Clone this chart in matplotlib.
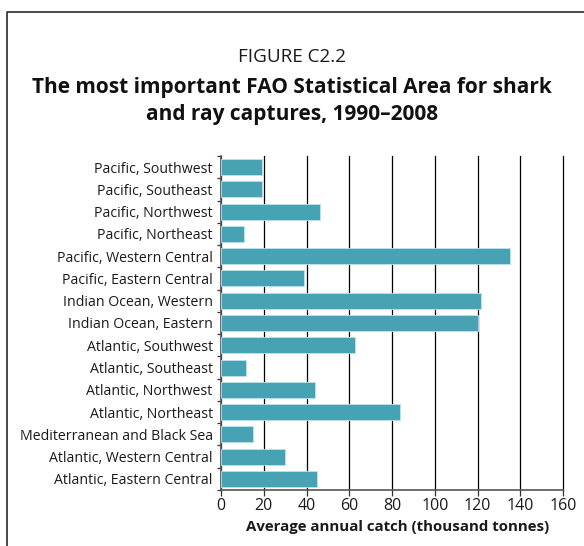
import matplotlib
matplotlib.use("Agg")
import matplotlib.pyplot as plt
from matplotlib.lines import Line2D

plt.rcParams["font.family"] = ["Open Sans", "DejaVu Sans"]

areas = [
    "Pacific, Southwest",
    "Pacific, Southeast",
    "Pacific, Northwest",
    "Pacific, Northeast",
    "Pacific, Western Central",
    "Pacific, Eastern Central",
    "Indian Ocean, Western",
    "Indian Ocean, Eastern",
    "Atlantic, Southwest",
    "Atlantic, Southeast",
    "Atlantic, Northwest",
    "Atlantic, Northeast",
    "Mediterranean and Black Sea",
    "Atlantic, Western Central",
    "Atlantic, Eastern Central",
]
catch = [19.4, 19.4, 46.2, 10.9, 135.2, 38.7, 121.8, 120.2,
         62.8, 11.9, 44.0, 83.7, 14.8, 29.8, 44.8]
x_ticks = [0, 20, 40, 60, 80, 100, 120, 140, 160]

W, H = 584, 546
fig = plt.figure(figsize=(W / 100, H / 100), dpi=100)
ax = fig.add_axes([221 / W, 1 - 490 / H, (563 - 221) / W, (490 - 156) / H])

# frame around the figure (only left and top visible in the crop)
fig.add_artist(Line2D([7 / W, 7 / W, 1.0], [0.0, 1 - 12 / H, 1 - 12 / H],
                      transform=fig.transFigure, color="#3a3a3a", lw=1.3))

ypos = list(range(len(areas)))
ax.set_axisbelow(True)
ax.xaxis.grid(True, color="black", lw=0.9)
ax.barh(ypos, catch, height=0.72, color="#47A3B3", edgecolor="#BFE3E9", lw=0.6, zorder=3)

ax.set_xlim(0, 160)
ax.set_ylim(len(areas) - 0.5, -0.5)
ax.set_xticks(x_ticks)
ax.set_yticks(ypos)
ax.set_yticklabels(areas)
ax.set_yticks([y - 0.5 for y in ypos] + [len(areas) - 0.5], minor=True)
ax.tick_params(axis="y", which="major", length=0, pad=6, labelsize=10.2, labelcolor="#1a1a1a")
ax.tick_params(axis="y", which="minor", length=3, width=0.9, color="#333333")
ax.tick_params(axis="x", length=4, width=0.9, color="#333333", labelsize=11.5, pad=2,
               labelcolor="#1a1a1a")
for gl in ax.get_xgridlines():
    gl.set_clip_on(False)

for side in ["top", "right"]:
    ax.spines[side].set_visible(False)
for side in ["left", "bottom"]:
    ax.spines[side].set_color("#555555")
    ax.spines[side].set_linewidth(1.2)

ax.set_xlabel("Average annual catch (thousand tonnes)", fontsize=10.8, fontweight="bold",
              labelpad=4, color="#1a1a1a")
ax.xaxis.label.set_x(0.517)

fig.text(0.5, 1 - 57 / H, "FIGURE C2.2", ha="center", va="center", fontsize=13.6,
         color="#1a1a1a")
fig.text(0.5, 1 - 101 / H, "The most important FAO Statistical Area for shark\nand ray captures, 1990\u20132008",
         ha="center", va="center", fontsize=15, fontweight="bold", linespacing=1.4,
         color="#111111")

fig.savefig("out.png", dpi=100)
